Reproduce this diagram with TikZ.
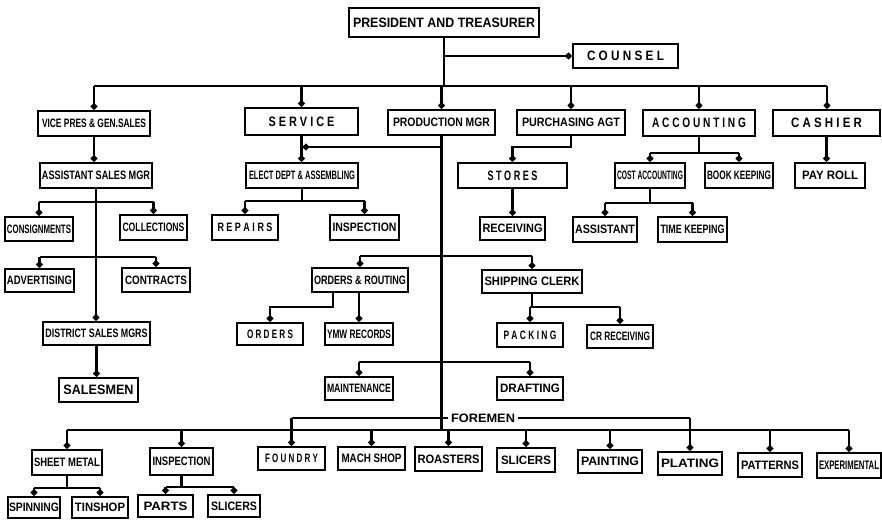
\documentclass[tikz,border=0pt]{standalone}
\usepackage{fontspec}
\setmainfont{Liberation Sans}
\usepackage{graphicx}
\usetikzlibrary{arrows.meta}
\pgfdeclarelayer{bg}\pgfsetlayers{bg,main}
\newcommand\orgbox[8][8.5]{%
 \pgfmathsetmacro\cx{(#3+#5)/2}\pgfmathsetmacro\cy{(#4+#6)/2}%
 \pgfmathsetmacro\ww{#5-#3}\pgfmathsetmacro\hh{#6-#4}%
 \node[box,minimum width=\ww pt,minimum height=\hh pt] (#2) at (\cx,\cy) {\resizebox{#7pt}{#1pt}{\bfseries #8}};}
\begin{document}
\begin{tikzpicture}[x=1pt,y=-1pt,
  box/.style={draw,line width=2.8pt,inner sep=0pt,outer sep=0pt,rectangle,fill=white},
  conn/.style={line width=2.8pt},
  dotend/.style={-{Circle[length=6pt,width=6pt]},shorten >=1.5pt}]
\useasboundingbox (0,0) rectangle (882,521);
\coordinate (busL) at (94,86);
\coordinate (busR) at (827,86);
% ---------- boxes ----------
\orgbox[9.5]{pres}{349}{8}{539}{37}{182}{PRESIDENT AND TREASURER}
\orgbox[9.5]{counsel}{573}{44}{678}{68}{77}{C O U N S E L}
\orgbox{vp}{38}{111}{150}{136}{104}{VICE PRES \& GEN.SALES}
\orgbox[9.5]{service}{245}{108}{358}{135}{66}{S E R V I C E}
\orgbox{prod}{388}{110}{495}{135}{97}{PRODUCTION MGR}
\orgbox{purch}{517}{110}{625}{135}{98}{PURCHASING AGT}
\orgbox[9.5]{acct}{643}{110}{755}{136}{94}{A C C O U N T I N G}
\orgbox[9.5]{cash}{773}{110}{880}{136}{71}{C A S H I E R}
\orgbox{asm}{40}{163}{152}{188}{108}{ASSISTANT SALES MGR}
\orgbox{elect}{246}{163}{358}{188}{106}{ELECT DEPT \& ASSEMBLING}
\orgbox[9.5]{stores}{458}{163}{567}{188}{50}{S T O R E S}
\orgbox{costacc}{615}{163}{685}{188}{66}{COST ACCOUNTING}
\orgbox{book}{705}{163}{773}{188}{64}{BOOK KEEPING}
\orgbox{pay}{795}{163}{865}{188}{56}{PAY ROLL}
\orgbox{consign}{5}{217}{73}{241}{64}{CONSIGNMENTS}
\orgbox{collect}{120}{215}{187}{240}{62}{COLLECTIONS}
\orgbox{repairs}{212}{215}{278}{240}{55}{R E P A I R S}
\orgbox{inspa}{330}{215}{399}{240}{64}{INSPECTION}
\orgbox{recv}{480}{217}{545}{240}{60}{RECEIVING}
\orgbox{assist}{573}{217}{637}{242}{60}{ASSISTANT}
\orgbox{timek}{658}{217}{727}{242}{64}{TIME KEEPING}
\orgbox{advert}{5}{269}{74}{292}{65}{ADVERTISING}
\orgbox{contracts}{122}{268}{190}{292}{62}{CONTRACTS}
\orgbox{ordrout}{312}{268}{408}{292}{92}{ORDERS \& ROUTING}
\orgbox{ship}{482}{270}{582}{293}{95}{SHIPPING CLERK}
\orgbox{district}{43}{322}{150}{345}{102}{DISTRICT SALES MGRS}
\orgbox{orders}{237}{323}{303}{345}{46}{O R D E R S}
\orgbox{ymw}{325}{323}{393}{345}{64}{YMW RECORDS}
\orgbox{packing}{497}{323}{563}{347}{53}{P A C K I N G}
\orgbox{crrecv}{587}{325}{653}{348}{60}{CR RECEIVING}
\orgbox[9.5]{salesmen}{59}{378}{138}{402}{70}{SALESMEN}
\orgbox{maint}{325}{377}{393}{400}{64}{MAINTENANCE}
\orgbox{draft}{497}{377}{563}{400}{60}{DRAFTING}
\orgbox{sheet}{32}{450}{102}{475}{66}{SHEET METAL}
\orgbox{inspb}{150}{448}{213}{475}{58}{INSPECTION}
\orgbox{foundry}{258}{447}{325}{470}{53}{F O U N D R Y}
\orgbox{mach}{338}{447}{405}{470}{60}{MACH SHOP}
\orgbox{roast}{415}{447}{482}{471}{62}{ROASTERS}
\orgbox{slicers}{497}{448}{555}{472}{50}{SLICERS}
\orgbox{paint}{578}{450}{642}{473}{58}{PAINTING}
\orgbox{plating}{658}{452}{722}{475}{58}{PLATING}
\orgbox{patterns}{738}{453}{802}{477}{58}{PATTERNS}
\orgbox{exper}{817}{453}{881}{478}{60}{EXPERIMENTAL}
\orgbox{spinning}{8}{497}{60}{518}{50}{SPINNING}
\orgbox{tinshop}{72}{497}{128}{518}{50}{TINSHOP}
\orgbox{parts}{138}{495}{193}{517}{44}{PARTS}
\orgbox{slicersb}{208}{495}{260}{517}{46}{SLICERS}
\begin{pgfonlayer}{bg}
\fill[white] (0,0) rectangle (882,521);
% president, counsel, main bus
\draw[conn] (pres.south) -- (pres.south |- busL);
\draw[conn,dotend] (pres.south |- counsel.west) -- (counsel.west);
\draw[conn] (busL) -- (busR);
\foreach \n in {vp,service,prod,purch,acct}{\draw[conn,dotend] (\n.north |- busL) -- (\n.north);}
\draw[conn,dotend] (busR) -- (busR |- cash.north);
% production trunk
\coordinate (lowbus) at (0,430);
\coordinate (upbus) at (0,418);
\draw[conn] (prod.south) -- (prod.south |- lowbus);
% service
\draw[conn,dotend] (service.south) -- (service.south |- elect.north);
\draw[conn,dotend] (prod.south |- 0,147) -- (service.south |- 0,147);
% purchasing
\draw[conn,dotend] (purch.south) -- (purch.south |- 0,147) -- (stores.north |- 0,147) -- (stores.north);
% accounting
\draw[conn] (acct.south) -- (acct.south |- 0,153);
\draw[conn] (costacc.north |- 0,153) -- (book.north |- 0,153);
\draw[conn,dotend] (costacc.north |- 0,153) -- (costacc.north);
\draw[conn,dotend] (book.north |- 0,153) -- (book.north);
% cashier
\draw[conn,dotend] (cash.south) -- (cash.south |- pay.north);
% vice pres
\draw[conn,dotend] (vp.south) -- (vp.south |- asm.north);
\draw[conn,dotend] (asm.south) -- (asm.south |- district.north);
\draw[conn] (consign.north |- 0,202) -- (collect.north |- 0,202);
\draw[conn,dotend] (consign.north |- 0,202) -- (consign.north);
\draw[conn,dotend] (collect.north |- 0,202) -- (collect.north);
\draw[conn] (advert.north |- 0,257) -- (contracts.north |- 0,257);
\draw[conn,dotend] (advert.north |- 0,257) -- (advert.north);
\draw[conn,dotend] (contracts.north |- 0,257) -- (contracts.north);
\draw[conn,dotend] (district.south) -- (district.south |- salesmen.north);
% elect dept
\draw[conn] (elect.south) -- (elect.south |- 0,201);
\draw[conn] (repairs.north |- 0,201) -- (inspa.north |- 0,201);
\draw[conn,dotend] (repairs.north |- 0,201) -- (repairs.north);
\draw[conn,dotend] (inspa.north |- 0,201) -- (inspa.north);
% stores
\draw[conn,dotend] (stores.south) -- (stores.south |- recv.north);
% cost accounting
\draw[conn] (costacc.south) -- (costacc.south |- 0,203);
\draw[conn] (assist.north |- 0,203) -- (timek.north |- 0,203);
\draw[conn,dotend] (assist.north |- 0,203) -- (assist.north);
\draw[conn,dotend] (timek.north |- 0,203) -- (timek.north);
% production branches
\draw[conn] (ordrout.north |- 0,256) -- (ship.north |- 0,256);
\draw[conn,dotend] (ordrout.north |- 0,256) -- (ordrout.north);
\draw[conn,dotend] (ship.north |- 0,256) -- (ship.north);
\coordinate (or1) at (333,292);
\draw[conn,dotend] (or1) -- (or1 |- 0,307) -- (orders.north |- 0,307) -- (orders.north);
\draw[conn,dotend] (ordrout.south -| ymw.north) -- (ymw.north);
\draw[conn] (ship.south) -- (ship.south |- 0,307);
\draw[conn] (packing.north |- 0,307) -- (crrecv.north |- 0,307);
\draw[conn,dotend] (packing.north |- 0,307) -- (packing.north);
\draw[conn,dotend] (crrecv.north |- 0,307) -- (crrecv.north);
\draw[conn] (maint.north |- 0,362) -- (draft.north |- 0,362);
\draw[conn,dotend] (maint.north |- 0,362) -- (maint.north);
\draw[conn,dotend] (draft.north |- 0,362) -- (draft.north);
% foremen buses
\draw[conn] (foundry.north |- upbus) -- (plating.north |- upbus);
\draw[conn,dotend] (foundry.north |- upbus) -- (foundry.north);
\draw[conn,dotend] (plating.north |- upbus) -- (plating.north);
\draw[conn] (sheet.north |- lowbus) -- (exper.north |- lowbus);
\foreach \n in {sheet,inspb,mach,roast,slicers,paint,patterns,exper}{\draw[conn,dotend] (\n.north |- lowbus) -- (\n.north);}
% sheet metal, inspection
\draw[conn] (sheet.south) -- (sheet.south |- 0,488);
\draw[conn] (spinning.north |- 0,488) -- (tinshop.north |- 0,488);
\draw[conn,dotend] (spinning.north |- 0,488) -- (spinning.north);
\draw[conn,dotend] (tinshop.north |- 0,488) -- (tinshop.north);
\draw[conn] (inspb.south) -- (inspb.south |- 0,487);
\draw[conn] (parts.north |- 0,487) -- (slicersb.north |- 0,487);
\draw[conn,dotend] (parts.north |- 0,487) -- (parts.north);
\draw[conn,dotend] (slicersb.north |- 0,487) -- (slicersb.north);
\end{pgfonlayer}
\node[fill=white,inner xsep=3pt,inner ysep=1pt] (foremen) at (483,418) {\resizebox{64pt}{8.5pt}{\bfseries FOREMEN}};
\end{tikzpicture}
\end{document}
